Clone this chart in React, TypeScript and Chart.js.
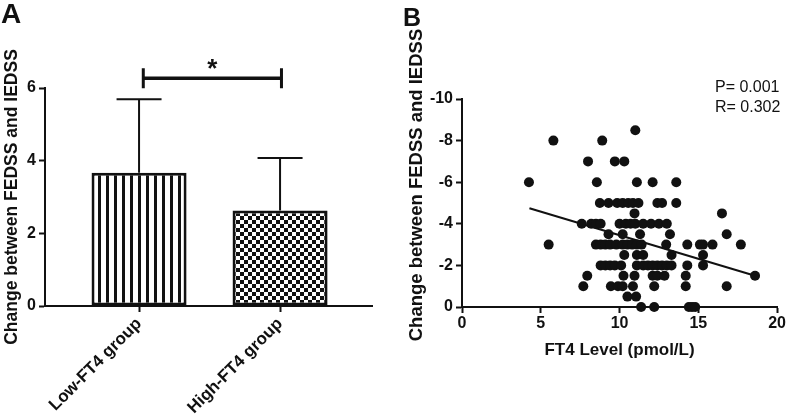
import React, { useEffect, useRef } from 'react';
import { Chart, registerables } from 'chart.js';

Chart.register(...registerables);

// ---------- Panel A data ----------
const groupLabels = ['Low-FT4 group', 'High-FT4 group'];
const groupPositions = [1, 2];
const groupMeans = [3.67, 2.63];
const groupSD = [2.02, 1.44];
const sigBracket = [1.03, 2.01];
const sigLevel = 6.27;
const sigText = '*';

// ---------- Panel B data (FT4 level, change score) ----------
const ft4Values = [
  11.0,
  5.8, 8.9,
  8.0, 9.7, 10.3,
  4.25, 8.56, 11.1, 12.1, 13.6,
  8.75, 9.3, 9.85, 10.2, 10.55, 10.85, 11.2, 12.4, 12.7, 13.6,
  10.95, 16.5,
  7.6, 8.2, 8.5, 8.8, 10.0, 10.4, 10.7, 11.0, 11.5, 12.0, 12.5, 13.0,
  9.3, 10.2, 11.3, 13.2, 16.8,
  5.5, 8.5, 8.8, 9.1, 9.4, 9.8, 10.2, 10.5, 10.8, 11.1, 11.4, 12.96, 14.3, 15.1, 15.3, 15.9, 17.7,
  10.3, 11.1, 11.5, 13.3, 15.3,
  8.8, 9.1, 9.4, 9.7, 10.1, 11.1, 11.5, 11.8, 12.1, 12.4, 12.7, 13.0, 13.3, 14.3, 15.3,
  7.95, 10.25, 10.95, 12.1, 12.4, 12.85, 14.2, 18.6,
  7.7, 9.45, 9.9, 10.2, 10.85, 12.2, 14.2, 16.8,
  10.5, 11.05,
  11.37, 12.2, 14.4, 14.6, 14.8,
];
const changeValues = [
  -8.5,
  -8, -8,
  -7, -7, -7,
  -6, -6, -6, -6, -6,
  -5, -5, -5, -5, -5, -5, -5, -5, -5, -5,
  -4.5, -4.5,
  -4, -4, -4, -4, -4, -4, -4, -4, -4, -4, -4, -4,
  -3.5, -3.5, -3.5, -3.5, -3.5,
  -3, -3, -3, -3, -3, -3, -3, -3, -3, -3, -3, -3, -3, -3, -3, -3, -3,
  -2.5, -2.5, -2.5, -2.5, -2.5,
  -2, -2, -2, -2, -2, -2, -2, -2, -2, -2, -2, -2, -2, -2, -2,
  -1.5, -1.5, -1.5, -1.5, -1.5, -1.5, -1.5, -1.5,
  -1, -1, -1, -1, -1, -1, -1, -1,
  -0.5, -0.5,
  0, 0, 0, 0, 0,
];
const fitX = [4.28, 18.6];
const fitY = [-4.75, -1.5];
const statLines = ['P= 0.001', 'R= 0.302'];

const yTitle = 'Change between FEDSS and IEDSS';
const xTitleB = 'FT4 Level (pmol/L)';

const FONT = "'Liberation Sans', Arial, Helvetica, sans-serif";
const INK = '#111';

function makeStripe(): CanvasPattern | string {
  const c = document.createElement('canvas');
  c.width = 8; c.height = 8;
  const g = c.getContext('2d');
  if (!g) return '#fff';
  g.fillStyle = '#fff'; g.fillRect(0, 0, 8, 8);
  g.fillStyle = INK; g.fillRect(2, 0, 3, 8);
  return g.createPattern(c, 'repeat') || '#fff';
}

function makeChecker(): CanvasPattern | string {
  const c = document.createElement('canvas');
  c.width = 8; c.height = 8;
  const g = c.getContext('2d');
  if (!g) return '#888';
  g.fillStyle = '#fff'; g.fillRect(0, 0, 8, 8);
  g.fillStyle = INK; g.fillRect(0, 0, 4, 4); g.fillRect(4, 4, 4, 4);
  return g.createPattern(c, 'repeat') || '#888';
}

function drawRotTitle(ctx: CanvasRenderingContext2D, text: string, x: number, y: number, size: number) {
  ctx.save();
  ctx.translate(x, y);
  ctx.rotate(-Math.PI / 2);
  ctx.font = `bold ${size}px ${FONT}`;
  ctx.fillStyle = INK;
  ctx.textAlign = 'center';
  ctx.textBaseline = 'middle';
  ctx.fillText(text, 0, 0);
  ctx.restore();
}

export default function App() {
  const refA = useRef<HTMLCanvasElement>(null);
  const refB = useRef<HTMLCanvasElement>(null);

  useEffect(() => {
    if (!refA.current || !refB.current) return;

    const panelAPlugin = {
      id: 'panelA',
      afterDatasetsDraw(chart: any) {
        const { ctx } = chart;
        const xs = chart.scales.x;
        const ys = chart.scales.y;
        ctx.save();
        ctx.strokeStyle = INK;
        ctx.lineWidth = 2;
        groupPositions.forEach((p, i) => {
          const x = xs.getPixelForValue(p);
          const yTop = ys.getPixelForValue(groupMeans[i]);
          const yErr = ys.getPixelForValue(groupMeans[i] + groupSD[i]);
          ctx.beginPath();
          ctx.moveTo(x, yTop);
          ctx.lineTo(x, yErr);
          ctx.moveTo(x - 22.5, yErr);
          ctx.lineTo(x + 22.5, yErr);
          ctx.stroke();
        });
        ctx.restore();
      },
      afterDraw(chart: any) {
        const { ctx } = chart;
        const xs = chart.scales.x;
        const ys = chart.scales.y;
        ctx.save();
        // significance bracket
        const x1 = xs.getPixelForValue(sigBracket[0]);
        const x2 = xs.getPixelForValue(sigBracket[1]);
        const yb = ys.getPixelForValue(sigLevel);
        ctx.strokeStyle = INK;
        ctx.lineWidth = 3.5;
        ctx.beginPath();
        ctx.moveTo(x1, yb); ctx.lineTo(x2, yb);
        ctx.stroke();
        ctx.lineWidth = 3;
        ctx.beginPath();
        ctx.moveTo(x1, yb - 10); ctx.lineTo(x1, yb + 10);
        ctx.moveTo(x2, yb - 10); ctx.lineTo(x2, yb + 10);
        ctx.stroke();
        ctx.fillStyle = INK;
        ctx.font = `bold 26px ${FONT}`;
        ctx.textAlign = 'center';
        ctx.textBaseline = 'alphabetic';
        ctx.fillText(sigText, (x1 + x2) / 2, yb - 1);
        // panel letter
        ctx.textAlign = 'left';
        ctx.font = `bold 28px ${FONT}`;
        ctx.fillText('A', 1, 23);
        ctx.restore();
        drawRotTitle(ctx, yTitle, 12, 197, 17.5);
      },
    };

    const chartA = new Chart(refA.current, {
      type: 'bar',
      data: {
        datasets: [
          {
            data: groupPositions.map((x, i) => ({ x, y: groupMeans[i] })),
            backgroundColor: [makeStripe(), makeChecker()] as any,
            borderColor: INK,
            borderWidth: 3,
            borderSkipped: false,
            barPercentage: 0.674,
            categoryPercentage: 1,
          } as any,
        ],
      },
      options: {
        animation: false,
        responsive: false,
        events: [],
        layout: { padding: { top: 88, right: 21, left: 0, bottom: 0 } },
        plugins: { legend: { display: false }, tooltip: { enabled: false } },
        scales: {
          x: {
            type: 'linear',
            min: 0.333,
            max: 2.652,
            offset: false,
            afterBuildTicks: (s: any) => { s.ticks = groupPositions.map((v) => ({ value: v })); },
            afterFit: (s: any) => { s.height = 110; },
            ticks: {
              autoSkip: false,
              minRotation: 45,
              maxRotation: 45,
              padding: 2,
              color: INK,
              font: { family: FONT, size: 17, weight: 'bold' },
              callback: (_v: any, i: number) => groupLabels[i],
            },
            grid: { display: true, drawOnChartArea: false, drawTicks: true, tickLength: 6, tickColor: INK, tickWidth: 2, offset: false },
            border: { display: true, color: INK, width: 2 },
          } as any,
          y: {
            min: 0,
            max: 6,
            afterFit: (s: any) => { s.width = 45; },
            ticks: { stepSize: 2, padding: 3, color: INK, font: { family: FONT, size: 16, weight: 'bold' } },
            grid: { display: true, drawOnChartArea: false, drawTicks: true, tickLength: 6, tickColor: INK, tickWidth: 2 },
            border: { display: true, color: INK, width: 2 },
          } as any,
        },
      },
      plugins: [panelAPlugin],
    });

    const panelBPlugin = {
      id: 'panelB',
      afterDraw(chart: any) {
        const { ctx } = chart;
        ctx.save();
        ctx.fillStyle = INK;
        ctx.textAlign = 'left';
        ctx.textBaseline = 'alphabetic';
        ctx.font = `bold 25px ${FONT}`;
        ctx.fillText('B', 10, 26);
        ctx.font = `16px ${FONT}`;
        ctx.fillText(statLines[0], 322, 91.5);
        ctx.fillText(statLines[1], 322, 111.5);
        ctx.restore();
        drawRotTitle(ctx, yTitle, 23.5, 185, 18.5);
      },
    };

    const chartB = new Chart(refB.current, {
      type: 'scatter',
      data: {
        datasets: [
          {
            type: 'line',
            data: fitX.map((x, i) => ({ x, y: fitY[i] })),
            borderColor: INK,
            borderWidth: 2,
            pointRadius: 0,
            fill: false,
            order: 2,
          } as any,
          {
            data: ft4Values.map((x, i) => ({ x, y: changeValues[i] })),
            backgroundColor: INK,
            borderWidth: 0,
            pointRadius: 5,
            clip: false,
            order: 1,
          } as any,
        ],
      },
      options: {
        animation: false,
        responsive: false,
        events: [],
        layout: { padding: { top: 99, right: 9, left: 0, bottom: 0 } },
        plugins: { legend: { display: false }, tooltip: { enabled: false } },
        scales: {
          x: {
            type: 'linear',
            min: 0,
            max: 20,
            afterFit: (s: any) => { s.height = 109; },
            ticks: { stepSize: 5, padding: 1, color: INK, maxRotation: 0, font: { family: FONT, size: 16, weight: 'bold' } },
            grid: { display: true, drawOnChartArea: false, drawTicks: true, tickLength: 6, tickColor: INK, tickWidth: 2 },
            border: { display: true, color: INK, width: 2 },
            title: {
              display: true,
              text: xTitleB,
              color: INK,
              font: { family: FONT, size: 17, weight: 'bold' },
              padding: { top: 0, bottom: 55.8 },
            },
          } as any,
          y: {
            type: 'linear',
            min: -10,
            max: 0,
            reverse: true,
            afterFit: (s: any) => { s.width = 69; },
            ticks: { stepSize: 2, padding: 3, color: INK, font: { family: FONT, size: 16, weight: 'bold' } },
            grid: { display: true, drawOnChartArea: false, drawTicks: true, tickLength: 6, tickColor: INK, tickWidth: 2 },
            border: { display: true, color: INK, width: 2 },
          } as any,
        },
      },
      plugins: [panelBPlugin],
    });

    return () => {
      chartA.destroy();
      chartB.destroy();
    };
  }, []);

  return (
    <div style={{ position: 'fixed', left: 0, top: 0, width: 787, height: 416, background: '#fff' }}>
      <canvas ref={refA} width={393} height={416} style={{ position: 'absolute', left: 0, top: 0, width: 393, height: 416 }} />
      <canvas ref={refB} width={394} height={416} style={{ position: 'absolute', left: 393, top: 0, width: 394, height: 416 }} />
    </div>
  );
}
